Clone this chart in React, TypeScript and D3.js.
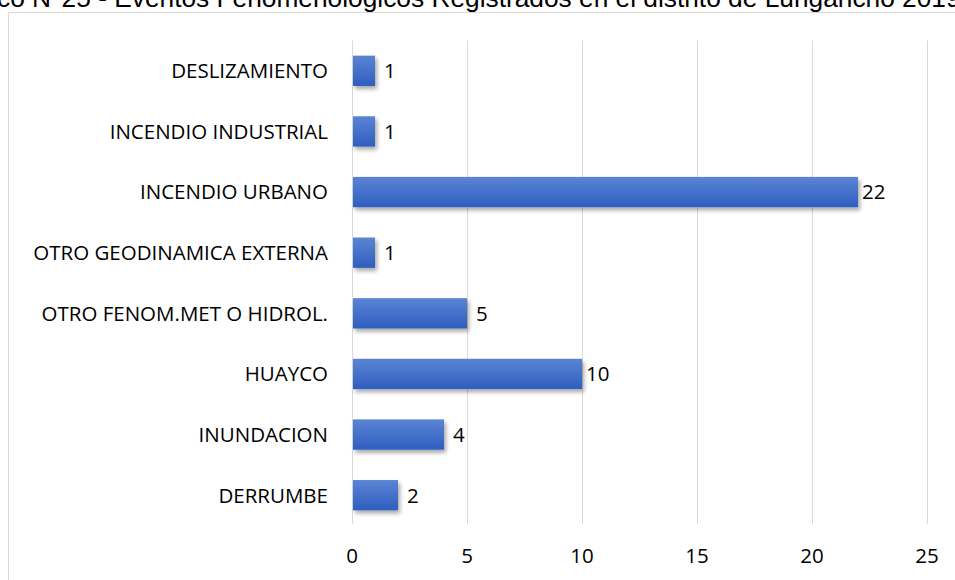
import React, { useEffect, useRef } from "react";
import * as d3 from "d3";

const categories = [
  "DESLIZAMIENTO",
  "INCENDIO INDUSTRIAL",
  "INCENDIO URBANO",
  "OTRO GEODINAMICA EXTERNA",
  "OTRO FENOM.MET O HIDROL.",
  "HUAYCO",
  "INUNDACION",
  "DERRUMBE",
];
const values = [1, 1, 22, 1, 5, 10, 4, 2];
const xTicks = [0, 5, 10, 15, 20, 25];
const title =
  "Gráfico N°25 - Eventos Fenomenologicos Registrados en el distrito de Lurigancho 2019";

export default function App() {
  const svgRef = useRef<SVGSVGElement | null>(null);
  const width = 955;
  const height = 580;
  const margin = { top: 40.5, right: 28, bottom: 55, left: 352 };
  const labelFont = "Open Sans, sans-serif";

  useEffect(() => {
    draw();
  }, []);

  const draw = () => {
    const svg = d3.select(svgRef.current);
    svg.selectAll("*").remove();

    const defs = svg.append("defs");
    const grad = defs
      .append("linearGradient")
      .attr("id", "barGrad")
      .attr("x1", 0)
      .attr("y1", 0)
      .attr("x2", 0)
      .attr("y2", 1);
    grad.append("stop").attr("offset", "0%").attr("stop-color", "#5b84d4");
    grad.append("stop").attr("offset", "100%").attr("stop-color", "#2e5ebf");

    const shadow = defs
      .append("filter")
      .attr("id", "shadow")
      .attr("x", "-20%")
      .attr("y", "-20%")
      .attr("width", "160%")
      .attr("height", "180%");
    shadow
      .append("feDropShadow")
      .attr("dx", 2)
      .attr("dy", 3)
      .attr("stdDeviation", 2)
      .attr("flood-color", "#000")
      .attr("flood-opacity", 0.35);

    // title (cut by the page edge, as in the reference)
    svg
      .append("text")
      .attr("x", -60)
      .attr("y", 7)
      .attr("font-family", "Liberation Sans, Arial, sans-serif")
      .attr("font-size", 26.3)
      .attr("fill", "#000")
      .text(title);

    // chart frame
    svg
      .append("rect")
      .attr("x", 8.5)
      .attr("y", 12.5)
      .attr("width", 1000)
      .attr("height", 600)
      .attr("fill", "none")
      .attr("stroke", "#d9d9d9")
      .attr("stroke-width", 1);

    const xScale = d3
      .scaleLinear()
      .domain([0, 25])
      .range([margin.left, 927]);
    const yScale = d3
      .scaleBand()
      .domain(categories)
      .range([margin.top, 525.5])
      .paddingInner(0.5)
      .paddingOuter(0.25);

    // gridlines
    svg
      .append("g")
      .selectAll("line")
      .data(xTicks)
      .join("line")
      .attr("x1", (d) => Math.round(xScale(d)) + 0.5)
      .attr("x2", (d) => Math.round(xScale(d)) + 0.5)
      .attr("y1", margin.top)
      .attr("y2", 524)
      .attr("stroke", "#d9d9d9")
      .attr("stroke-width", 1);

    // bars
    svg
      .append("g")
      .selectAll("rect")
      .data(values)
      .join("rect")
      .attr("x", xScale(0) + 1)
      .attr("y", (d, i) => yScale(categories[i])!)
      .attr("width", (d) => xScale(d) - xScale(0) - 1)
      .attr("height", yScale.bandwidth())
      .attr("fill", "url(#barGrad)")
      .attr("filter", "url(#shadow)");

    // value labels
    svg
      .append("g")
      .selectAll("text")
      .data(values)
      .join("text")
      .attr("x", (d) => xScale(d) + (d < 10 ? 9 : 4))
      .attr("y", (d, i) => yScale(categories[i])! + yScale.bandwidth() / 2)
      .attr("dy", "0.36em")
      .attr("font-family", labelFont)
      .attr("font-size", 20.5)
      .attr("fill", "#000")
      .text((d) => d);

    // category labels
    svg
      .append("g")
      .selectAll("text")
      .data(categories)
      .join("text")
      .attr("x", 328)
      .attr("y", (d) => yScale(d)! + yScale.bandwidth() / 2)
      .attr("dy", "0.36em")
      .attr("text-anchor", "end")
      .attr("font-family", labelFont)
      .attr("font-size", 20.5)
      .attr("fill", "#000")
      .text((d) => d);

    // x tick labels
    svg
      .append("g")
      .selectAll("text")
      .data(xTicks)
      .join("text")
      .attr("x", (d) => xScale(d))
      .attr("y", 556)
      .attr("dy", "0.36em")
      .attr("text-anchor", "middle")
      .attr("font-family", labelFont)
      .attr("font-size", 20.5)
      .attr("fill", "#000")
      .text((d) => d);
  };

  return (
    <svg
      ref={svgRef}
      width={width}
      height={height}
      style={{ position: "absolute", left: 0, top: 0, background: "#fff" }}
    ></svg>
  );
}
